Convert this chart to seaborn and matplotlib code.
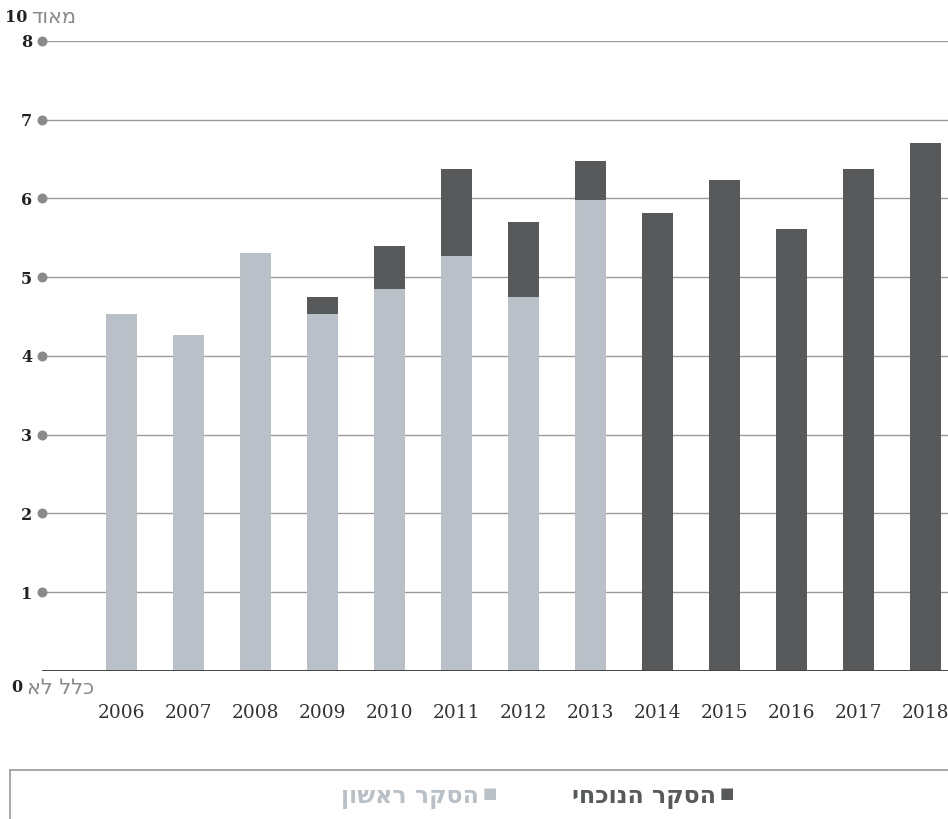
import numpy as np
import pandas as pd
import matplotlib
matplotlib.use("Agg")
import matplotlib.pyplot as plt
import seaborn as sns
from matplotlib.lines import Line2D

# data
years = ['2006', '2007', '2008', '2009', '2010', '2011', '2012',
         '2013', '2014', '2015', '2016', '2017', '2018']
first_survey = [4.53, 4.27, 5.31, 4.53, 4.85, 5.27, 4.75, 5.98,
                None, None, None, None, None]
current_survey = [None, None, None, 4.75, 5.40, 6.37, 5.70, 6.48,
                  5.82, 6.23, 5.61, 6.37, 6.70]
y_ticks = [1, 2, 3, 4, 5, 6, 7, 8]

label_current = 'הסקר הנוכחי'
label_first = 'הסקר ראשון'
label_top = 'מאוד'
label_bottom = 'כלל לא'

light = '#b9c0c7'
dark = '#58595b'


def rtl(s):
    # matplotlib has no bidi support, so flip Hebrew to visual order
    return s[::-1]


sns.set_style('white')
plt.rcParams['font.family'] = ['DejaVu Sans']

df_cur = pd.DataFrame({'year': years, 'value': current_survey}).dropna()
df_first = pd.DataFrame({'year': years, 'value': first_survey}).dropna()

fig = plt.figure(figsize=(9.48, 8.19), dpi=100)
ax = fig.add_axes([0.0443, 0.1807, 0.9557, 0.7693])

# current survey behind, first survey in front
sns.barplot(data=df_cur, x='year', y='value', order=years, color=dark,
            width=0.46, saturation=1, linewidth=0, edgecolor='none',
            ax=ax, zorder=3)
sns.barplot(data=df_first, x='year', y='value', order=years, color=light,
            width=0.46, saturation=1, linewidth=0, edgecolor='none',
            ax=ax, zorder=4)

xmin = -1.19
ax.set_xlim(xmin, 12.33)
ax.set_ylim(0, 8)

for s in ['top', 'right', 'left', 'bottom']:
    ax.spines[s].set_visible(False)

for y in y_ticks:
    ax.axhline(y, color='#9a9a9a', lw=1, zorder=1)
ax.axhline(0, color='#444444', lw=1.4, zorder=5)
ax.scatter([xmin] * len(y_ticks), y_ticks, s=38, color='#8a8a8a',
           zorder=6, clip_on=False)

ax.set_yticks(y_ticks)
ax.set_yticklabels([str(v) for v in y_ticks], family='DejaVu Serif',
                   fontweight='bold', fontsize=11.5, color='#222222')
ax.tick_params(axis='y', length=0, pad=7)
ax.tick_params(axis='x', length=0, pad=24)
for lab in ax.get_xticklabels():
    lab.set_family('DejaVu Serif')
    lab.set_fontsize(13.4)
    lab.set_color('#333333')
ax.set_xlabel('')
ax.set_ylabel('')

# scale end labels
fig.text(0.005, 1 - 17 / 819, '10', family='DejaVu Serif', fontweight='bold',
         fontsize=11.5, color='#222222', va='center', ha='left')
fig.text(0.033, 1 - 17 / 819, rtl(label_top), fontsize=15, color='#8a8a8a',
         va='center', ha='left')
fig.text(0.012, 1 - 688 / 819, '0', family='DejaVu Serif', fontweight='bold',
         fontsize=11.5, color='#222222', va='center', ha='left')
fig.text(0.029, 1 - 688 / 819, rtl(label_bottom), fontsize=15,
         color='#8a8a8a', va='center', ha='left')

# legend box
ly = 1 - 770 / 819
fig.add_artist(Line2D([10 / 948, 1], [ly, ly], color='#9a9a9a', lw=1.2,
                      transform=fig.transFigure))
fig.add_artist(Line2D([10 / 948, 10 / 948], [0, ly], color='#9a9a9a', lw=1.2,
                      transform=fig.transFigure))
ty = 1 - 797 / 819
sy = 1 - 794 / 819
fig.text(734 / 948, sy, '■', fontsize=11, color=dark, ha='right', va='center')
fig.text(716 / 948, ty, rtl(label_current), fontsize=17, fontweight='bold',
         color=dark, ha='right', va='center')
fig.text(497 / 948, sy, '■', fontsize=11, color=light, ha='right', va='center')
fig.text(479 / 948, ty, rtl(label_first), fontsize=17, fontweight='bold',
         color=light, ha='right', va='center')

fig.savefig('out.png', dpi=100)
